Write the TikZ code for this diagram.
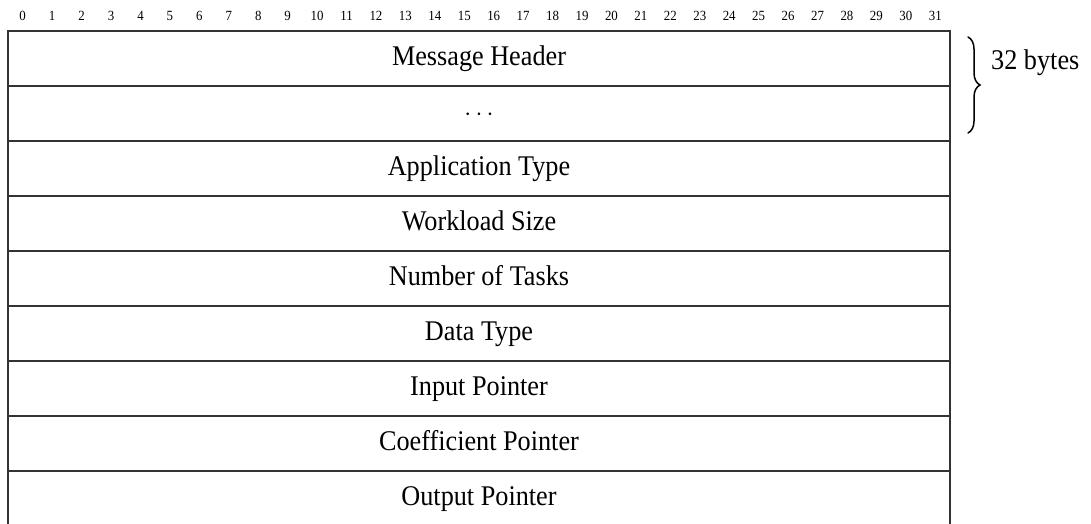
\documentclass[tikz,border=0pt]{standalone}
\usepackage{fontspec}
\setmainfont{Liberation Serif}[FakeStretch=0.92]
\usetikzlibrary{decorations.pathreplacing}
\begin{document}
\begin{tikzpicture}[x=1pt,y=-1pt,
  frame/.style={draw=black!80, line width=1.5pt},
  field/.style={font=\fontsize{28.5}{30}\selectfont, inner sep=0pt, anchor=base},
  bitnum/.style={font=\fontsize{14}{16}\selectfont, inner sep=0pt, anchor=base},
  bracestyle/.style={line width=1.5pt, line cap=round, decorate,
    decoration={brace, amplitude=12pt, raise=0pt}}]
\useasboundingbox (0,0) rectangle (1091,524);
% bit numbers
\foreach \i in {0,...,31} {
  \node[bitnum] (b\i) at ({8+942/32*(\i+0.5)}, 20.5) {\i};
}
% frame
\draw[frame] (8,524) -- (8,31) -- (950,31) -- (950,524);
\foreach \y in {86,141,196,251,306,361,416,471} {
  \draw[frame] (8,\y) -- (950,\y);
}
% fields
\node[field] (f1) at (479,65.5) {Message Header};
\node[field] (f2) at (479,120.5) {$\cdots$};
\node[field] (f3) at (479,175.5) {Application Type};
\node[field] (f4) at (479,230.5) {Workload Size};
\node[field] (f5) at (479,285.5) {Number of Tasks};
\node[field] (f6) at (479,340.5) {Data Type};
\node[field] (f7) at (479,395.5) {Input Pointer};
\node[field] (f8) at (479,450.5) {Coefficient Pointer};
\node[field] (f9) at (479,505.5) {Output Pointer};
% brace
\coordinate (bt) at (968,37);
\coordinate (bb) at (968,133);
\draw[bracestyle] (bt) -- (bb);
\node[field, anchor=base west] (lbl) at (991,70) {32 bytes};
\end{tikzpicture}
\end{document}
